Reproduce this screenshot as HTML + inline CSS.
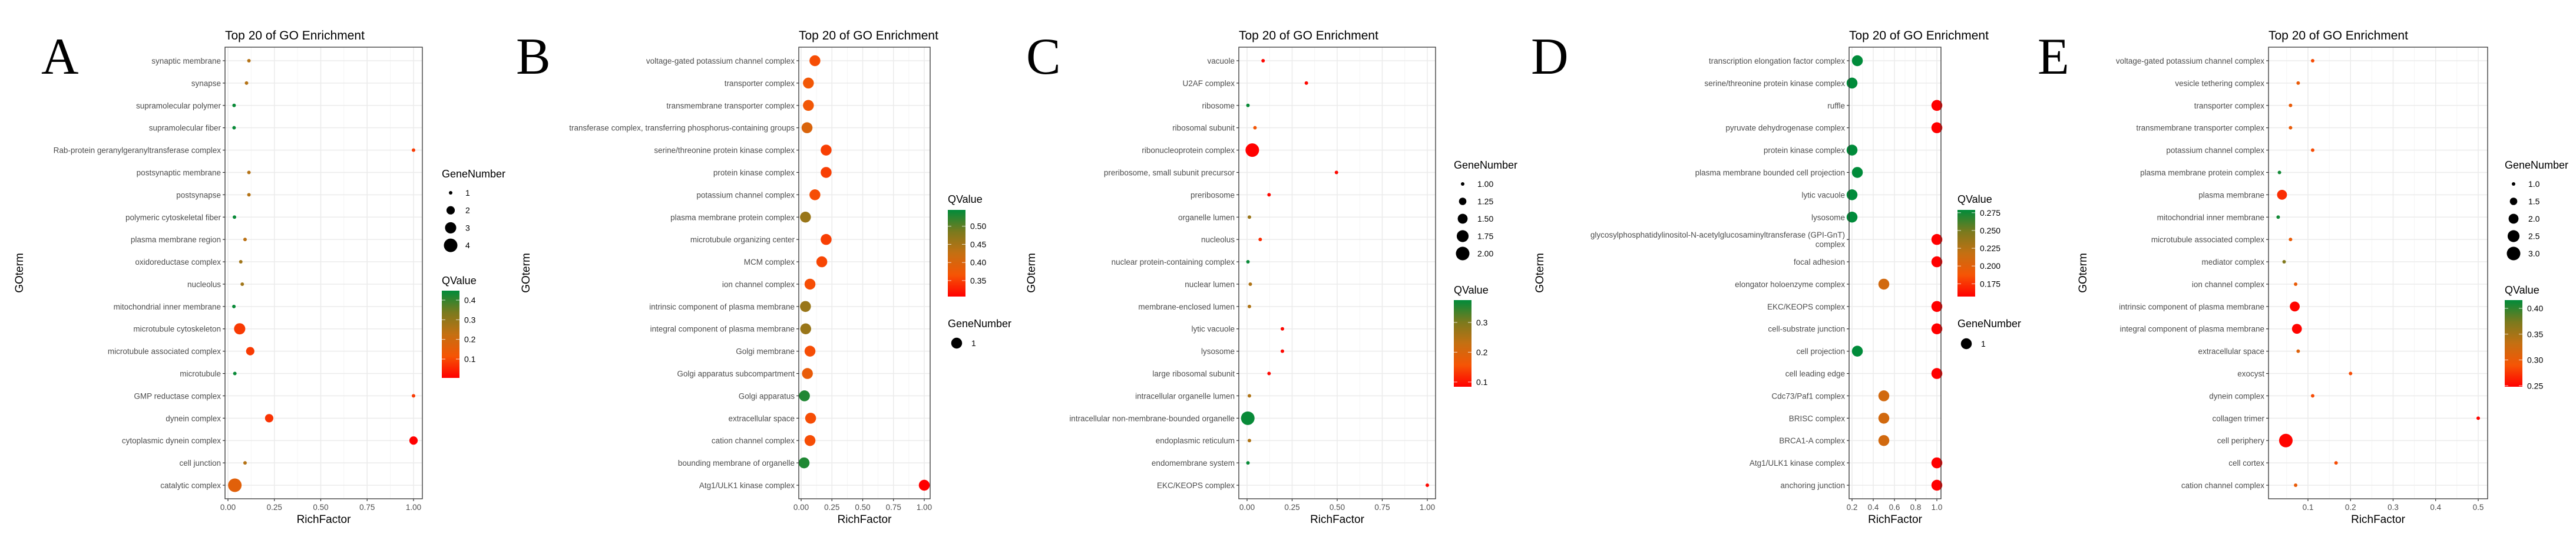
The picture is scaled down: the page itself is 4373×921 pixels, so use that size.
<!DOCTYPE html>
<html><head><meta charset="utf-8"><title>GO Enrichment panels</title>
<style>
html,body{margin:0;padding:0;background:#fff;}
svg{display:block;font-family:"Liberation Sans",Arial,sans-serif;}
</style></head>
<body>
<svg id="fig" width="4373" height="921" viewBox="0 0 4373 921" xmlns="http://www.w3.org/2000/svg">
<rect width="4373" height="921" fill="#fff"/>
</svg>
<script>
// ---------- Panel A data ----------
const termsA = ["synaptic membrane","synapse","supramolecular polymer","supramolecular fiber","Rab-protein geranylgeranyltransferase complex","postsynaptic membrane","postsynapse","polymeric cytoskeletal fiber","plasma membrane region","oxidoreductase complex","nucleolus","mitochondrial inner membrane","microtubule cytoskeleton","microtubule associated complex","microtubule","GMP reductase complex","dynein complex","cytoplasmic dynein complex","cell junction","catalytic complex"];
const richA = [0.113,0.10,0.033,0.033,1.0,0.113,0.113,0.035,0.092,0.069,0.077,0.032,0.063,0.12,0.037,1.0,0.222,1.0,0.092,0.037];
const qA = [0.25,0.25,0.44,0.44,0.08,0.25,0.25,0.44,0.24,0.28,0.28,0.44,0.08,0.08,0.44,0.08,0.07,0.005,0.25,0.16];
const genesA = [1,1,1,1,1,1,1,1,1,1,1,1,3,2,1,1,2,2,1,4];
const xTicksA = [0,0.25,0.5,0.75,1];
const xTickLabelsA = ["0.00","0.25","0.50","0.75","1.00"];
const qTicksA = [0.1,0.2,0.3,0.4];
const qTickLabelsA = ["0.1","0.2","0.3","0.4"];
const sizeKeysA = [1,2,3,4];
const sizeKeyLabelsA = ["1","2","3","4"];

// ---------- Panel B data ----------
const termsB = ["voltage-gated potassium channel complex","transporter complex","transmembrane transporter complex","transferase complex, transferring phosphorus-containing groups","serine/threonine protein kinase complex","protein kinase complex","potassium channel complex","plasma membrane protein complex","microtubule organizing center","MCM complex","ion channel complex","intrinsic component of plasma membrane","integral component of plasma membrane","Golgi membrane","Golgi apparatus subcompartment","Golgi apparatus","extracellular space","cation channel complex","bounding membrane of organelle","Atg1/ULK1 kinase complex"];
const richB = [0.112,0.059,0.059,0.048,0.203,0.203,0.112,0.035,0.203,0.168,0.072,0.035,0.037,0.072,0.051,0.027,0.077,0.072,0.024,1.0];
const qB = [0.36,0.37,0.37,0.40,0.35,0.35,0.36,0.46,0.35,0.355,0.36,0.46,0.46,0.36,0.38,0.53,0.36,0.36,0.53,0.306];
const genesB = [1,1,1,1,1,1,1,1,1,1,1,1,1,1,1,1,1,1,1,1];
const xTicksB = [0,0.25,0.5,0.75,1];
const xTickLabelsB = ["0.00","0.25","0.50","0.75","1.00"];
const qTicksB = [0.35,0.40,0.45,0.50];
const qTickLabelsB = ["0.35","0.40","0.45","0.50"];
const sizeKeysB = [1];
const sizeKeyLabelsB = ["1"];

// ---------- Panel C data ----------
const termsC = ["vacuole","U2AF complex","ribosome","ribosomal subunit","ribonucleoprotein complex","preribosome, small subunit precursor","preribosome","organelle lumen","nucleolus","nuclear protein-containing complex","nuclear lumen","membrane-enclosed lumen","lytic vacuole","lysosome","large ribosomal subunit","intracellular organelle lumen","intracellular non-membrane-bounded organelle","endoplasmic reticulum","endomembrane system","EKC/KEOPS complex"];
const richC = [0.089,0.329,0.005,0.044,0.029,0.496,0.122,0.013,0.073,0.005,0.018,0.013,0.196,0.196,0.122,0.013,0.004,0.013,0.005,1.0];
const qC = [0.09,0.09,0.37,0.16,0.085,0.09,0.09,0.27,0.12,0.37,0.25,0.25,0.09,0.09,0.09,0.25,0.37,0.25,0.37,0.09];
const genesC = [1,1,1,1,2,1,1,1,1,1,1,1,1,1,1,1,2,1,1,1];
const xTicksC = [0,0.25,0.5,0.75,1];
const xTickLabelsC = ["0.00","0.25","0.50","0.75","1.00"];
const qTicksC = [0.1,0.2,0.3];
const qTickLabelsC = ["0.1","0.2","0.3"];
const sizeKeysC = [1,1.25,1.5,1.75,2];
const sizeKeyLabelsC = ["1.00","1.25","1.50","1.75","2.00"];

// ---------- Panel D data ----------
const termsD = ["transcription elongation factor complex","serine/threonine protein kinase complex","ruffle","pyruvate dehydrogenase complex","protein kinase complex","plasma membrane bounded cell projection","lytic vacuole","lysosome","glycosylphosphatidylinositol-N-acetylglucosaminyltransferase (GPI-GnT)|complex","focal adhesion","elongator holoenzyme complex","EKC/KEOPS complex","cell-substrate junction","cell projection","cell leading edge","Cdc73/Paf1 complex","BRISC complex","BRCA1-A complex","Atg1/ULK1 kinase complex","anchoring junction"];
const richD = [0.25,0.2,1.0,1.0,0.2,0.25,0.2,0.2,1.0,1.0,0.5,1.0,1.0,0.25,1.0,0.5,0.5,0.5,1.0,1.0];
const qD = [0.279,0.279,0.157,0.157,0.279,0.279,0.279,0.279,0.157,0.157,0.21,0.157,0.157,0.279,0.157,0.21,0.21,0.21,0.157,0.157];
const genesD = [1,1,1,1,1,1,1,1,1,1,1,1,1,1,1,1,1,1,1,1];
const xTicksD = [0.2,0.4,0.6,0.8,1.0];
const xTickLabelsD = ["0.2","0.4","0.6","0.8","1.0"];
const qTicksD = [0.175,0.2,0.225,0.25,0.275];
const qTickLabelsD = ["0.175","0.200","0.225","0.250","0.275"];
const sizeKeysD = [1];
const sizeKeyLabelsD = ["1"];

// ---------- Panel E data ----------
const termsE = ["voltage-gated potassium channel complex","vesicle tethering complex","transporter complex","transmembrane transporter complex","potassium channel complex","plasma membrane protein complex","plasma membrane","mitochondrial inner membrane","microtubule associated complex","mediator complex","ion channel complex","intrinsic component of plasma membrane","integral component of plasma membrane","extracellular space","exocyst","dynein complex","collagen trimer","cell periphery","cell cortex","cation channel complex"];
const richE = [0.111,0.077,0.059,0.059,0.111,0.033,0.039,0.030,0.059,0.044,0.071,0.069,0.074,0.077,0.2,0.111,0.5,0.048,0.166,0.071];
const qE = [0.285,0.30,0.30,0.30,0.285,0.41,0.27,0.41,0.30,0.37,0.30,0.25,0.25,0.31,0.285,0.285,0.25,0.25,0.285,0.30];
const genesE = [1,1,1,1,1,1,2,1,1,1,1,2,2,1,1,1,1,3,1,1];
const xTicksE = [0.1,0.2,0.3,0.4,0.5];
const xTickLabelsE = ["0.1","0.2","0.3","0.4","0.5"];
const qTicksE = [0.25,0.30,0.35,0.40];
const qTickLabelsE = ["0.25","0.30","0.35","0.40"];
const sizeKeysE = [1,1.5,2,2.5,3];
const sizeKeyLabelsE = ["1.0","1.5","2.0","2.5","3.0"];

// ---------- layout (positions only) ----------
const NS = "http://www.w3.org/2000/svg";
const svg = document.getElementById('fig');
const ROW0 = 103, ROWN = 823, PLOT_TOP = 80, PLOT_BOT = 846;

const panels = [
 {id:'a', letter:'A', letterX:70, goX:32, terms:termsA, rich:richA, q:qA, genes:genesA, xt:xTicksA, xtl:xTickLabelsA, qt:qTicksA, qtl:qTickLabelsA, sk:sizeKeysA, skl:sizeKeyLabelsA,
  L:382, R:717, v0:0, p0:387, v1:1, p1:702, qMin:0.004, qMax:0.448, gMin:1, gMax:4, geneFirst:true,
  legX:750, geneTitleY:295, geneY0:327, geneStep:29.7, qTitleY:476, barTop:493, barBot:641},
 {id:'b', letter:'B', letterX:876, goX:892, terms:termsB, rich:richB, q:qB, genes:genesB, xt:xTicksB, xtl:xTickLabelsB, qt:qTicksB, qtl:qTickLabelsB, sk:sizeKeysB, skl:sizeKeyLabelsB,
  L:1356, R:1579, v0:0, p0:1360, v1:1, p1:1569, qMin:0.306, qMax:0.545, gMin:1, gMax:1, geneFirst:false,
  legX:1609, geneTitleY:549, geneY0:582, geneStep:29.7, qTitleY:338, barTop:356, barBot:503},
 {id:'c', letter:'C', letterX:1742, goX:1750, terms:termsC, rich:richC, q:qC, genes:genesC, xt:xTicksC, xtl:xTickLabelsC, qt:qTicksC, qtl:qTickLabelsC, sk:sizeKeysC, skl:sizeKeyLabelsC,
  L:2103, R:2437, v0:0, p0:2117, v1:1, p1:2423, qMin:0.084, qMax:0.375, gMin:1, gMax:2, geneFirst:true,
  legX:2468, geneTitleY:280, geneY0:312, geneStep:29.5, qTitleY:492, barTop:509, barBot:656},
 {id:'d', letter:'D', letterX:2599, goX:2613, terms:termsD, rich:richD, q:qD, genes:genesD, xt:xTicksD, xtl:xTickLabelsD, qt:qTicksD, qtl:qTickLabelsD, sk:sizeKeysD, skl:sizeKeyLabelsD,
  L:3139, R:3295, v0:0.2, p0:3144, v1:1.0, p1:3288, qMin:0.157, qMax:0.279, gMin:1, gMax:1, geneFirst:false,
  legX:3323, geneTitleY:549, geneY0:583, geneStep:29.7, qTitleY:338, barTop:356, barBot:503},
 {id:'e', letter:'E', letterX:3459, goX:3535, terms:termsE, rich:richE, q:qE, genes:genesE, xt:xTicksE, xtl:xTickLabelsE, qt:qTicksE, qtl:qTickLabelsE, sk:sizeKeysE, skl:sizeKeyLabelsE,
  L:3851, R:4223, v0:0.1, p0:3918, v1:0.5, p1:4207, qMin:0.248, qMax:0.416, gMin:1, gMax:3, geneFirst:true,
  legX:4252, geneTitleY:280, geneY0:312, geneStep:29.5, qTitleY:492, barTop:509, barBot:656}
];

const STOPS = [[0,[255,0,0]],[0.25,[245,85,5]],[0.5,[196,112,18]],[0.75,[122,122,30]],[1,[0,139,58]]];
function colorAt(t){
  t = Math.max(0, Math.min(1, t));
  for (let i=0;i<STOPS.length-1;i++){
    const a=STOPS[i], b=STOPS[i+1];
    if (t<=b[0]){
      const f=(t-a[0])/(b[0]-a[0]);
      const c=a[1].map((v,k)=>Math.round(v+(b[1][k]-v)*f));
      return `rgb(${c[0]},${c[1]},${c[2]})`;
    }
  }
  return 'rgb(0,139,58)';
}
function mk(tag, attrs, parent){
  const e=document.createElementNS(NS, tag);
  for (const k in attrs) e.setAttribute(k, attrs[k]);
  (parent||svg).appendChild(e);
  return e;
}
function txt(s, attrs, parent){
  const e=mk('text', attrs, parent);
  e.textContent=s;
  return e;
}
function diam(p, g){
  if (p.gMax===p.gMin) return 18.5;
  const t=(g-p.gMin)/(p.gMax-p.gMin);
  return Math.sqrt(36 + t*(23*23-36));
}

panels.forEach(p=>{
  const g = mk('g', {});
  
  
  const xs = v => p.p0 + (v - p.v0)/(p.v1 - p.v0)*(p.p1 - p.p0);
  const n = p.terms.length;
  const ys = i => ROW0 + i*(ROWN-ROW0)/(n-1);
  const qcol = q => colorAt((q - p.qMin)/(p.qMax - p.qMin));

  // panel letter
  const lt = txt(p.letter, {x:p.letterX, y:125, 'font-family':'"Liberation Serif",serif', 'font-size':88, fill:'#000'}, g);
  
  

  // title
  const tt = txt('Top 20 of GO Enrichment', {x:p.L, y:67, 'font-size':21, fill:'#000'}, g);
  
  

  // plot background
  const bg = mk('rect', {x:p.L, y:PLOT_TOP, width:p.R-p.L, height:PLOT_BOT-PLOT_TOP, fill:'#fff'}, g);
  
  

  // minor vertical grid
  for (let i=0;i<p.xt.length-1;i++){
    const mx = xs((p.xt[i]+p.xt[i+1])/2);
    const ml = mk('line', {x1:mx, x2:mx, y1:PLOT_TOP, y2:PLOT_BOT, stroke:'#f2f2f2', 'stroke-width':0.8}, g);
    
    
  }
  {
    const step = p.xt[1]-p.xt[0];
    const mx = xs(p.xt[0]-step/2);
    if (mx > p.L) { const ml = mk('line', {x1:mx, x2:mx, y1:PLOT_TOP, y2:PLOT_BOT, stroke:'#f2f2f2', 'stroke-width':0.8}, g);
      
       }
  }
  // major vertical grid + ticks + labels
  p.xt.forEach((v,i)=>{
    const x = xs(v);
    const gl = mk('line', {x1:x, x2:x, y1:PLOT_TOP, y2:PLOT_BOT, stroke:'#ebebeb', 'stroke-width':1.5}, g);
    
    
    const tk = mk('line', {x1:x, x2:x, y1:PLOT_BOT, y2:PLOT_BOT+4, stroke:'#333', 'stroke-width':1.2}, g);
    
    
    const tl = txt(p.xtl[i], {x:x, y:865, 'font-size':13.5, fill:'#4d4d4d', 'text-anchor':'middle'}, g);
    
    
  });
  // horizontal grid, y ticks, labels
  p.terms.forEach((t,i)=>{
    const y = ys(i);
    const hl = mk('line', {x1:p.L, x2:p.R, y1:y, y2:y, stroke:'#ebebeb', 'stroke-width':1.5}, g);
    
    
    const tk = mk('line', {x1:p.L-4, x2:p.L, y1:y, y2:y, stroke:'#333', 'stroke-width':1.2}, g);
    
    
    const parts = t.split('|');
    if (parts.length === 1){
      const yl = txt(t, {x:p.L-7, y:y+5, 'font-size':13.5, fill:'#4d4d4d', 'text-anchor':'end'}, g);
      
      
    } else {
      const yl = mk('text', {x:p.L-7, y:y-3, 'font-size':13.5, fill:'#4d4d4d', 'text-anchor':'end'}, g);
      
      
      parts.forEach((s,k)=>{
        const ts = mk('tspan', {x:p.L-7, dy: k===0 ? 0 : 16}, yl);
        ts.textContent = s;
      });
    }
  });
  // dots
  p.terms.forEach((t,i)=>{
    const c = mk('circle', {cx:xs(p.rich[i]), cy:ys(i), r:diam(p, p.genes[i])/2, fill:qcol(p.q[i])}, g);
    
    
  });
  // border
  const bd = mk('rect', {x:p.L, y:PLOT_TOP, width:p.R-p.L, height:PLOT_BOT-PLOT_TOP, fill:'none', stroke:'#333', 'stroke-width':1.3}, g);
  
  

  // axis titles
  const xt = txt('RichFactor', {x:(p.L+p.R)/2, y:887, 'font-size':19, fill:'#000', 'text-anchor':'middle'}, g);
  
  
  const yt = txt('GOterm', {x:0, y:0, 'font-size':19, fill:'#000', 'text-anchor':'middle', transform:`translate(${p.goX+7},463) rotate(-90)`}, g);
  
  

  // QValue legend
  const gradId = 'grad-' + p.id;
  const defs = mk('defs', {}, g);
  const lg = mk('linearGradient', {id:gradId, x1:0, y1:1, x2:0, y2:0}, defs);
  STOPS.forEach(s=>{ mk('stop', {offset:s[0], 'stop-color':`rgb(${s[1].join(',')})`}, lg); });
  const qtTitle = txt('QValue', {x:p.legX, y:p.qTitleY+6, 'font-size':18, fill:'#000'}, g);
  
  
  const bar = mk('rect', {x:p.legX, y:p.barTop, width:30, height:p.barBot-p.barTop, fill:`url(#${gradId})`}, g);
  
  
  const qy = v => p.barBot - (v - p.qMin)/(p.qMax - p.qMin)*(p.barBot - p.barTop);
  p.qt.forEach((v,i)=>{
    const y = qy(v);
    const t1 = mk('line', {x1:p.legX, x2:p.legX+6, y1:y, y2:y, stroke:'#fff', 'stroke-width':1, opacity:0.8}, g);
    
    
    const t2 = mk('line', {x1:p.legX+24, x2:p.legX+30, y1:y, y2:y, stroke:'#fff', 'stroke-width':1, opacity:0.8}, g);
    
    
    const l = txt(p.qtl[i], {x:p.legX+38, y:y+5, 'font-size':14, fill:'#000'}, g);
    
    
  });

  // GeneNumber legend
  const gt = txt('GeneNumber', {x:p.legX, y:p.geneTitleY+6, 'font-size':18, fill:'#000'}, g);
  
  
  p.sk.forEach((v,i)=>{
    const y = p.geneY0 + i*p.geneStep;
    const c = mk('circle', {cx:p.legX+15, cy:y, r:diam(p, v)/2, fill:'#000'}, g);
    
    
    const l = txt(p.skl[i], {x:p.legX+40, y:y+5, 'font-size':14, fill:'#000'}, g);
    
    
  });
});
</script>
</body></html>
